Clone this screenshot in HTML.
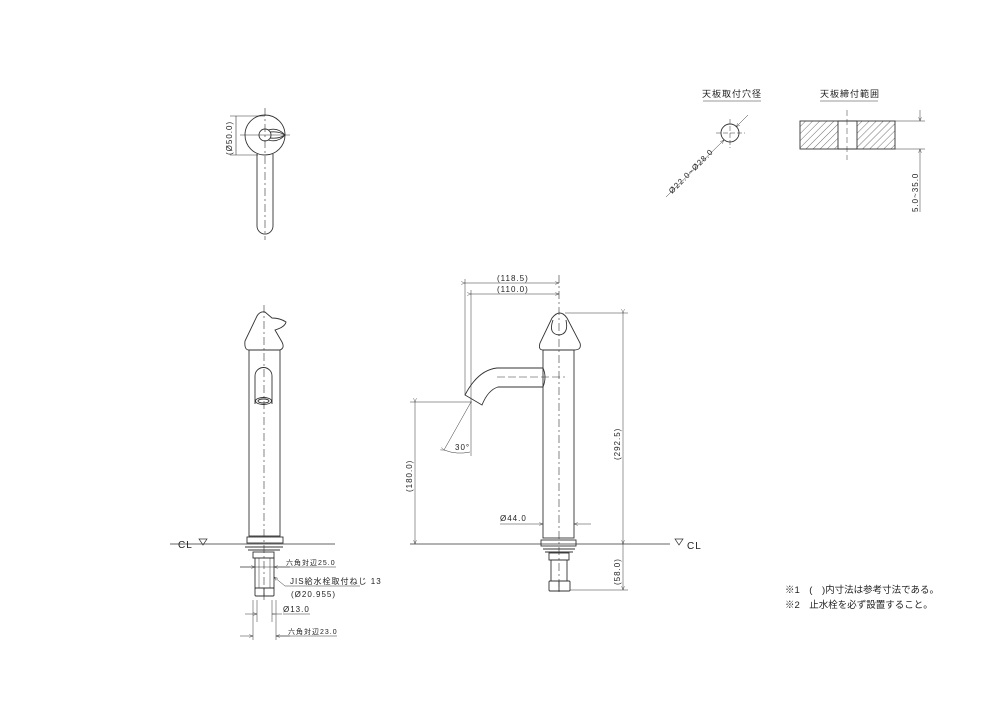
<!DOCTYPE html>
<html><head><meta charset="utf-8"><style>
html,body{margin:0;padding:0;background:#fff}
svg{display:block}
text{font-family:"Liberation Sans","Noto Sans CJK JP",sans-serif;fill:#222}
</style></head><body>
<svg width="1000" height="706" viewBox="0 0 1000 706" xmlns="http://www.w3.org/2000/svg">
<defs>
<pattern id="h" width="5" height="5" patternUnits="userSpaceOnUse" patternTransform="rotate(45)">
<line x1="0" y1="0" x2="0" y2="5" stroke="#333" stroke-width="0.7"/></pattern>
<marker id="a" markerWidth="8" markerHeight="6" refX="8" refY="3" orient="auto"><path d="M0,0 L8,3 L0,6" fill="none" stroke="#333" stroke-width="0.8"/></marker>
</defs>
<g fill="none" stroke="#333" stroke-width="0.9">
<!-- top view -->
<circle cx="265" cy="135" r="20"/>
<circle cx="265" cy="135" r="6"/>
<path d="M268,130 Q278,127 285,135 Q278,143 268,140"/>
<path d="M270,132 Q279,131 285,135 Q279,139 270,138"/>
<path d="M257,154 L257,226 A8,8 0 0 0 273,226 L273,154"/>
<line x1="265" y1="108" x2="265" y2="240" stroke-dasharray="8,3,2,3" stroke-width="0.6"/>
<line x1="240" y1="135" x2="290" y2="135" stroke-width="0.6"/>
<line x1="230" y1="116" x2="265" y2="116" stroke-width="0.6"/>
<line x1="230" y1="155" x2="258" y2="155" stroke-width="0.6"/>
<line x1="236" y1="116" x2="236" y2="155" stroke-width="0.6"/>
<!-- left front view -->
<path d="M249,350 L280,350 Q285,348 282,342 L275,330 Q285,327 286,322 Q280,318 272,318 L265,312 Q260,311 257,316 L245,341 Q244,350 249,350 Z"/>
<rect x="249" y="350" width="31" height="186"/>
<path d="M255,404 L255,376 A8.5,8.5 0 0 1 272,376 L272,404"/>
<ellipse cx="263.5" cy="401" rx="8" ry="3.5"/>
<ellipse cx="263.5" cy="401" rx="5.5" ry="2"/>
<line x1="264" y1="305" x2="264" y2="600" stroke-dasharray="8,3,2,3" stroke-width="0.6"/>
<rect x="247" y="537" width="36" height="6"/>
<line x1="170" y1="544" x2="335" y2="544" stroke-width="0.7"/>
<path d="M199,539 L207,539 L203,545 Z" stroke-width="0.7"/>
<line x1="245" y1="547" x2="283" y2="547"/><line x1="248" y1="550" x2="280" y2="550"/>
<rect x="253" y="552" width="21" height="6"/>
<rect x="255" y="558" width="19" height="30"/>
<line x1="259" y1="558" x2="259" y2="588" stroke-width="0.5"/><line x1="270" y1="558" x2="270" y2="588" stroke-width="0.5"/>
<rect x="255" y="588" width="19" height="8" rx="1"/>
<line x1="264" y1="588" x2="264" y2="596"/>
<g stroke-width="0.5">
<line x1="240" y1="567" x2="336" y2="567"/><line x1="240" y1="567" x2="255" y2="567" marker-end="url(#a)"/>
<line x1="290" y1="567" x2="274" y2="567" marker-end="url(#a)"/>
<line x1="285" y1="586" x2="360" y2="586"/><line x1="285" y1="586" x2="274" y2="577" marker-end="url(#a)"/>
<line x1="257" y1="600" x2="257" y2="622"/><line x1="272" y1="600" x2="272" y2="622"/>
<line x1="245" y1="614" x2="257" y2="614" marker-end="url(#a)"/><line x1="282" y1="614" x2="272" y2="614"/><line x1="272" y1="614" x2="275" y2="614"/>
<line x1="283" y1="614" x2="310" y2="614"/>
<line x1="253" y1="600" x2="253" y2="640"/><line x1="276" y1="600" x2="276" y2="640"/>
<line x1="240" y1="636" x2="253" y2="636" marker-end="url(#a)"/><line x1="290" y1="636" x2="276" y2="636" marker-end="url(#a)"/>
<line x1="276" y1="636" x2="337" y2="636"/>
</g>
<!-- right side view -->
<path d="M543,350 L574,350 Q582,350 580,343 L567,318 Q560,308 552,318 L540,343 Q538,350 543,350 Z"/>
<path d="M553,320 Q548,334 559,335 Q569,334 566,320"/>
<rect x="543" y="350" width="31" height="188"/>
<line x1="559" y1="275" x2="559" y2="595" stroke-dasharray="8,3,2,3" stroke-width="0.6"/>
<path d="M543,368 L497,368 Q478,370 465,395 L482,405 Q488,390 498,387 L543,387"/>
<path d="M543,368 Q547,377 543,387"/>
<line x1="497" y1="377" x2="565" y2="377" stroke-dasharray="8,3" stroke-width="0.5"/>
<rect x="541" y="540" width="35" height="6"/>
<line x1="410" y1="544" x2="670" y2="544" stroke-width="0.7"/>
<path d="M675,539 L683,539 L679,545 Z" stroke-width="0.7"/>
<line x1="543" y1="549" x2="575" y2="549"/><line x1="545" y1="552" x2="573" y2="552"/>
<rect x="549" y="553" width="20" height="7"/>
<rect x="551" y="560" width="16" height="21"/>
<rect x="549" y="581" width="21" height="10" rx="1"/>
<line x1="559" y1="581" x2="559" y2="591"/>
<g stroke-width="0.5">
<line x1="465" y1="279" x2="465" y2="395"/><line x1="471" y1="290" x2="471" y2="456"/>
<line x1="465" y1="283" x2="559" y2="283" marker-start="url(#a)" marker-end="url(#a)"/>
<line x1="471" y1="294" x2="559" y2="294" marker-start="url(#a)" marker-end="url(#a)"/>
<line x1="565" y1="313" x2="628" y2="313"/>
<line x1="623" y1="313" x2="623" y2="544" marker-start="url(#a)" marker-end="url(#a)"/>
<line x1="623" y1="544" x2="623" y2="590" marker-end="url(#a)"/>
<line x1="570" y1="590" x2="628" y2="590"/>
<line x1="410" y1="402" x2="472" y2="402"/>
<line x1="415" y1="402" x2="415" y2="544" marker-start="url(#a)" marker-end="url(#a)"/>
<line x1="471" y1="402" x2="444" y2="450"/>
<path d="M444,450 Q457,455 470,452" marker-start="url(#a)"/>
<line x1="500" y1="524" x2="543" y2="524" marker-end="url(#a)"/>
<line x1="591" y1="524" x2="574" y2="524" marker-end="url(#a)"/>
</g>
<!-- top right details -->
<line x1="703" y1="101" x2="761" y2="101" stroke-width="0.6"/>
<line x1="820" y1="101" x2="878" y2="101" stroke-width="0.6"/>
<circle cx="730" cy="133" r="9"/>
<line x1="716" y1="133" x2="745" y2="133" stroke-width="0.5" stroke-dasharray="5,2"/>
<line x1="730" y1="119" x2="730" y2="148" stroke-width="0.5" stroke-dasharray="5,2"/>
<line x1="666" y1="197" x2="724" y2="140" stroke-width="0.5" marker-end="url(#a)"/>
<line x1="748" y1="115" x2="736" y2="127" stroke-width="0.5" marker-end="url(#a)"/>
<rect x="800" y="121" width="38" height="28" fill="url(#h)"/>
<rect x="857" y="121" width="38" height="28" fill="url(#h)"/>
<line x1="838" y1="121" x2="857" y2="121"/><line x1="838" y1="149" x2="857" y2="149"/>
<line x1="847" y1="110" x2="847" y2="160" stroke-width="0.5" stroke-dasharray="6,3"/>
<line x1="895" y1="121" x2="925" y2="121" stroke-width="0.5"/>
<line x1="895" y1="149" x2="925" y2="149" stroke-width="0.5"/>
<line x1="920" y1="110" x2="920" y2="121" stroke-width="0.5" marker-end="url(#a)"/>
<line x1="920" y1="212" x2="920" y2="149" stroke-width="0.5" marker-end="url(#a)"/>
</g>
<g font-size="8" letter-spacing="1">
<text x="232" y="155" transform="rotate(-90 232 155)">(Ø50.0)</text>
<text x="286" y="565" font-size="7">六角対辺25.0</text>
<text x="290" y="584">JIS給水栓取付ねじ 13</text>
<text x="291" y="597">(Ø20.955)</text>
<text x="283" y="612">Ø13.0</text>
<text x="288" y="634" font-size="7">六角対辺23.0</text>
<text x="178" y="548" font-size="10">CL</text>
<text x="687" y="549" font-size="10">CL</text>
<text x="497" y="281">(118.5)</text>
<text x="497" y="292">(110.0)</text>
<text x="620" y="460" transform="rotate(-90 620 460)">(292.5)</text>
<text x="620" y="585" transform="rotate(-90 620 585)">(58.0)</text>
<text x="412" y="492" transform="rotate(-90 412 492)">(180.0)</text>
<text x="500" y="521">Ø44.0</text>
<text x="455" y="450">30°</text>
<text x="702" y="97" font-size="9">天板取付穴径</text>
<text x="820" y="97" font-size="9">天板締付範囲</text>
<text x="672" y="194" transform="rotate(-45 672 194)">Ø22.0~Ø28.0</text>
<text x="918" y="212" transform="rotate(-90 918 212)">5.0~35.0</text>
</g>
<g font-size="9.5">
<text x="785" y="593">※1　(　)内寸法は参考寸法である。</text>
<text x="785" y="608">※2　止水栓を必ず設置すること。</text>
</g>
</svg>
</body></html>
